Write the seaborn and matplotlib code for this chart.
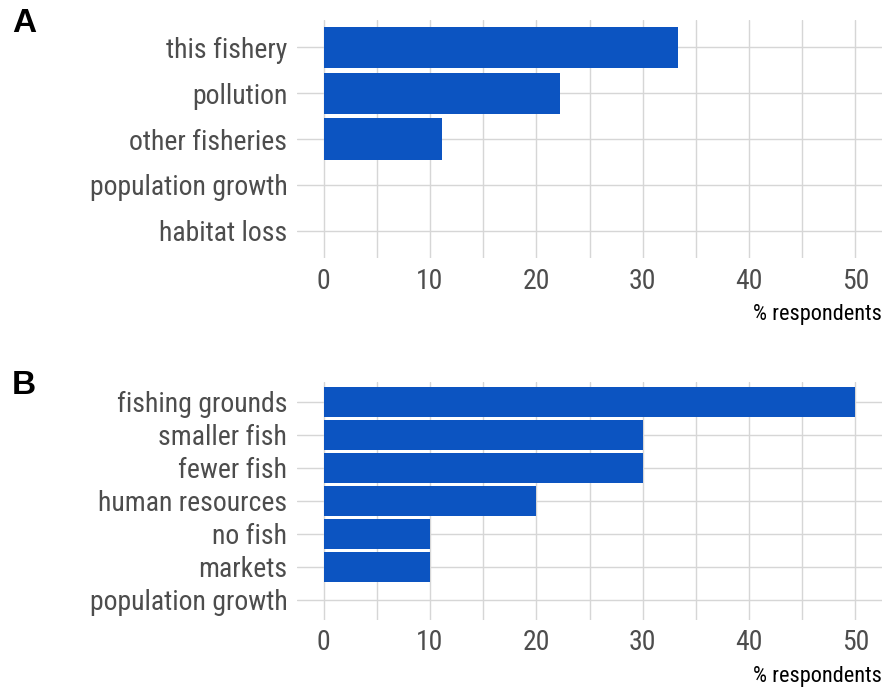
import matplotlib
matplotlib.use("Agg")
import matplotlib.pyplot as plt
import seaborn as sns
import pandas as pd
from matplotlib.ticker import MultipleLocator

# Threats to the fishery (panel A) and reported changes (panel B), % of respondents
threat_labels = ["this fishery", "pollution", "other fisheries", "population growth", "habitat loss"]
threat_pct = [33.3, 22.2, 11.1, 0, 0]

change_labels = ["fishing grounds", "smaller fish", "fewer fish", "human resources",
                 "no fish", "markets", "population growth"]
change_pct = [50, 30, 30, 20, 10, 10, 0]

x_ticks = [0, 10, 20, 30, 40, 50]
x_label = "% respondents"

BAR = "#0c54c1"
GRID = "#d6d6d6"
TEXT = "#4d4d4d"

sns.set_theme(style="white")
plt.rcParams["font.family"] = ["Roboto Condensed", "DejaVu Sans"]

W, H = 884, 688
fig = plt.figure(figsize=(W / 100, H / 100), dpi=100)


def px_axes(left, top, right, bottom):
    return fig.add_axes([left / W, 1 - bottom / H, (right - left) / W, (bottom - top) / H])


def draw_panel(ax, labels, values, tag, tag_y):
    df = pd.DataFrame({"category": labels, "pct": values})
    sns.barplot(data=df, x="pct", y="category", orient="h", color=BAR,
                saturation=1, width=0.9, linewidth=0, ax=ax, zorder=2)
    n = len(labels)
    ax.set_ylim(n - 1 + 0.6, -0.6)
    ax.set_xlim(-2.5, 52.5)
    ax.set_xticks(x_ticks)
    ax.xaxis.set_minor_locator(MultipleLocator(5))
    ax.grid(True, which="major", axis="both", color=GRID, linewidth=1.0, zorder=0)
    ax.grid(True, which="minor", axis="x", color=GRID, linewidth=1.0, zorder=0)
    ax.set_axisbelow(True)
    for s in ax.spines.values():
        s.set_visible(False)
    ax.tick_params(axis="both", which="both", length=0, labelsize=20, labelcolor=TEXT)
    ax.tick_params(axis="y", pad=7)
    ax.tick_params(axis="x", pad=7)
    ax.set_ylabel("")
    ax.set_xlabel(x_label, fontsize=16, color="black", loc="right", labelpad=7)
    fig.text(12 / W, 1 - tag_y / H, tag, fontsize=24, fontweight="bold",
             family=["Liberation Sans", "DejaVu Sans"], color="black",
             ha="left", va="center")


axA = px_axes(297, 20, 882, 258)
draw_panel(axA, threat_labels, threat_pct, "A", 24)

axB = px_axes(297, 382, 882, 619.6)
draw_panel(axB, change_labels, change_pct, "B", 386)

fig.savefig("out.png", dpi=100)
